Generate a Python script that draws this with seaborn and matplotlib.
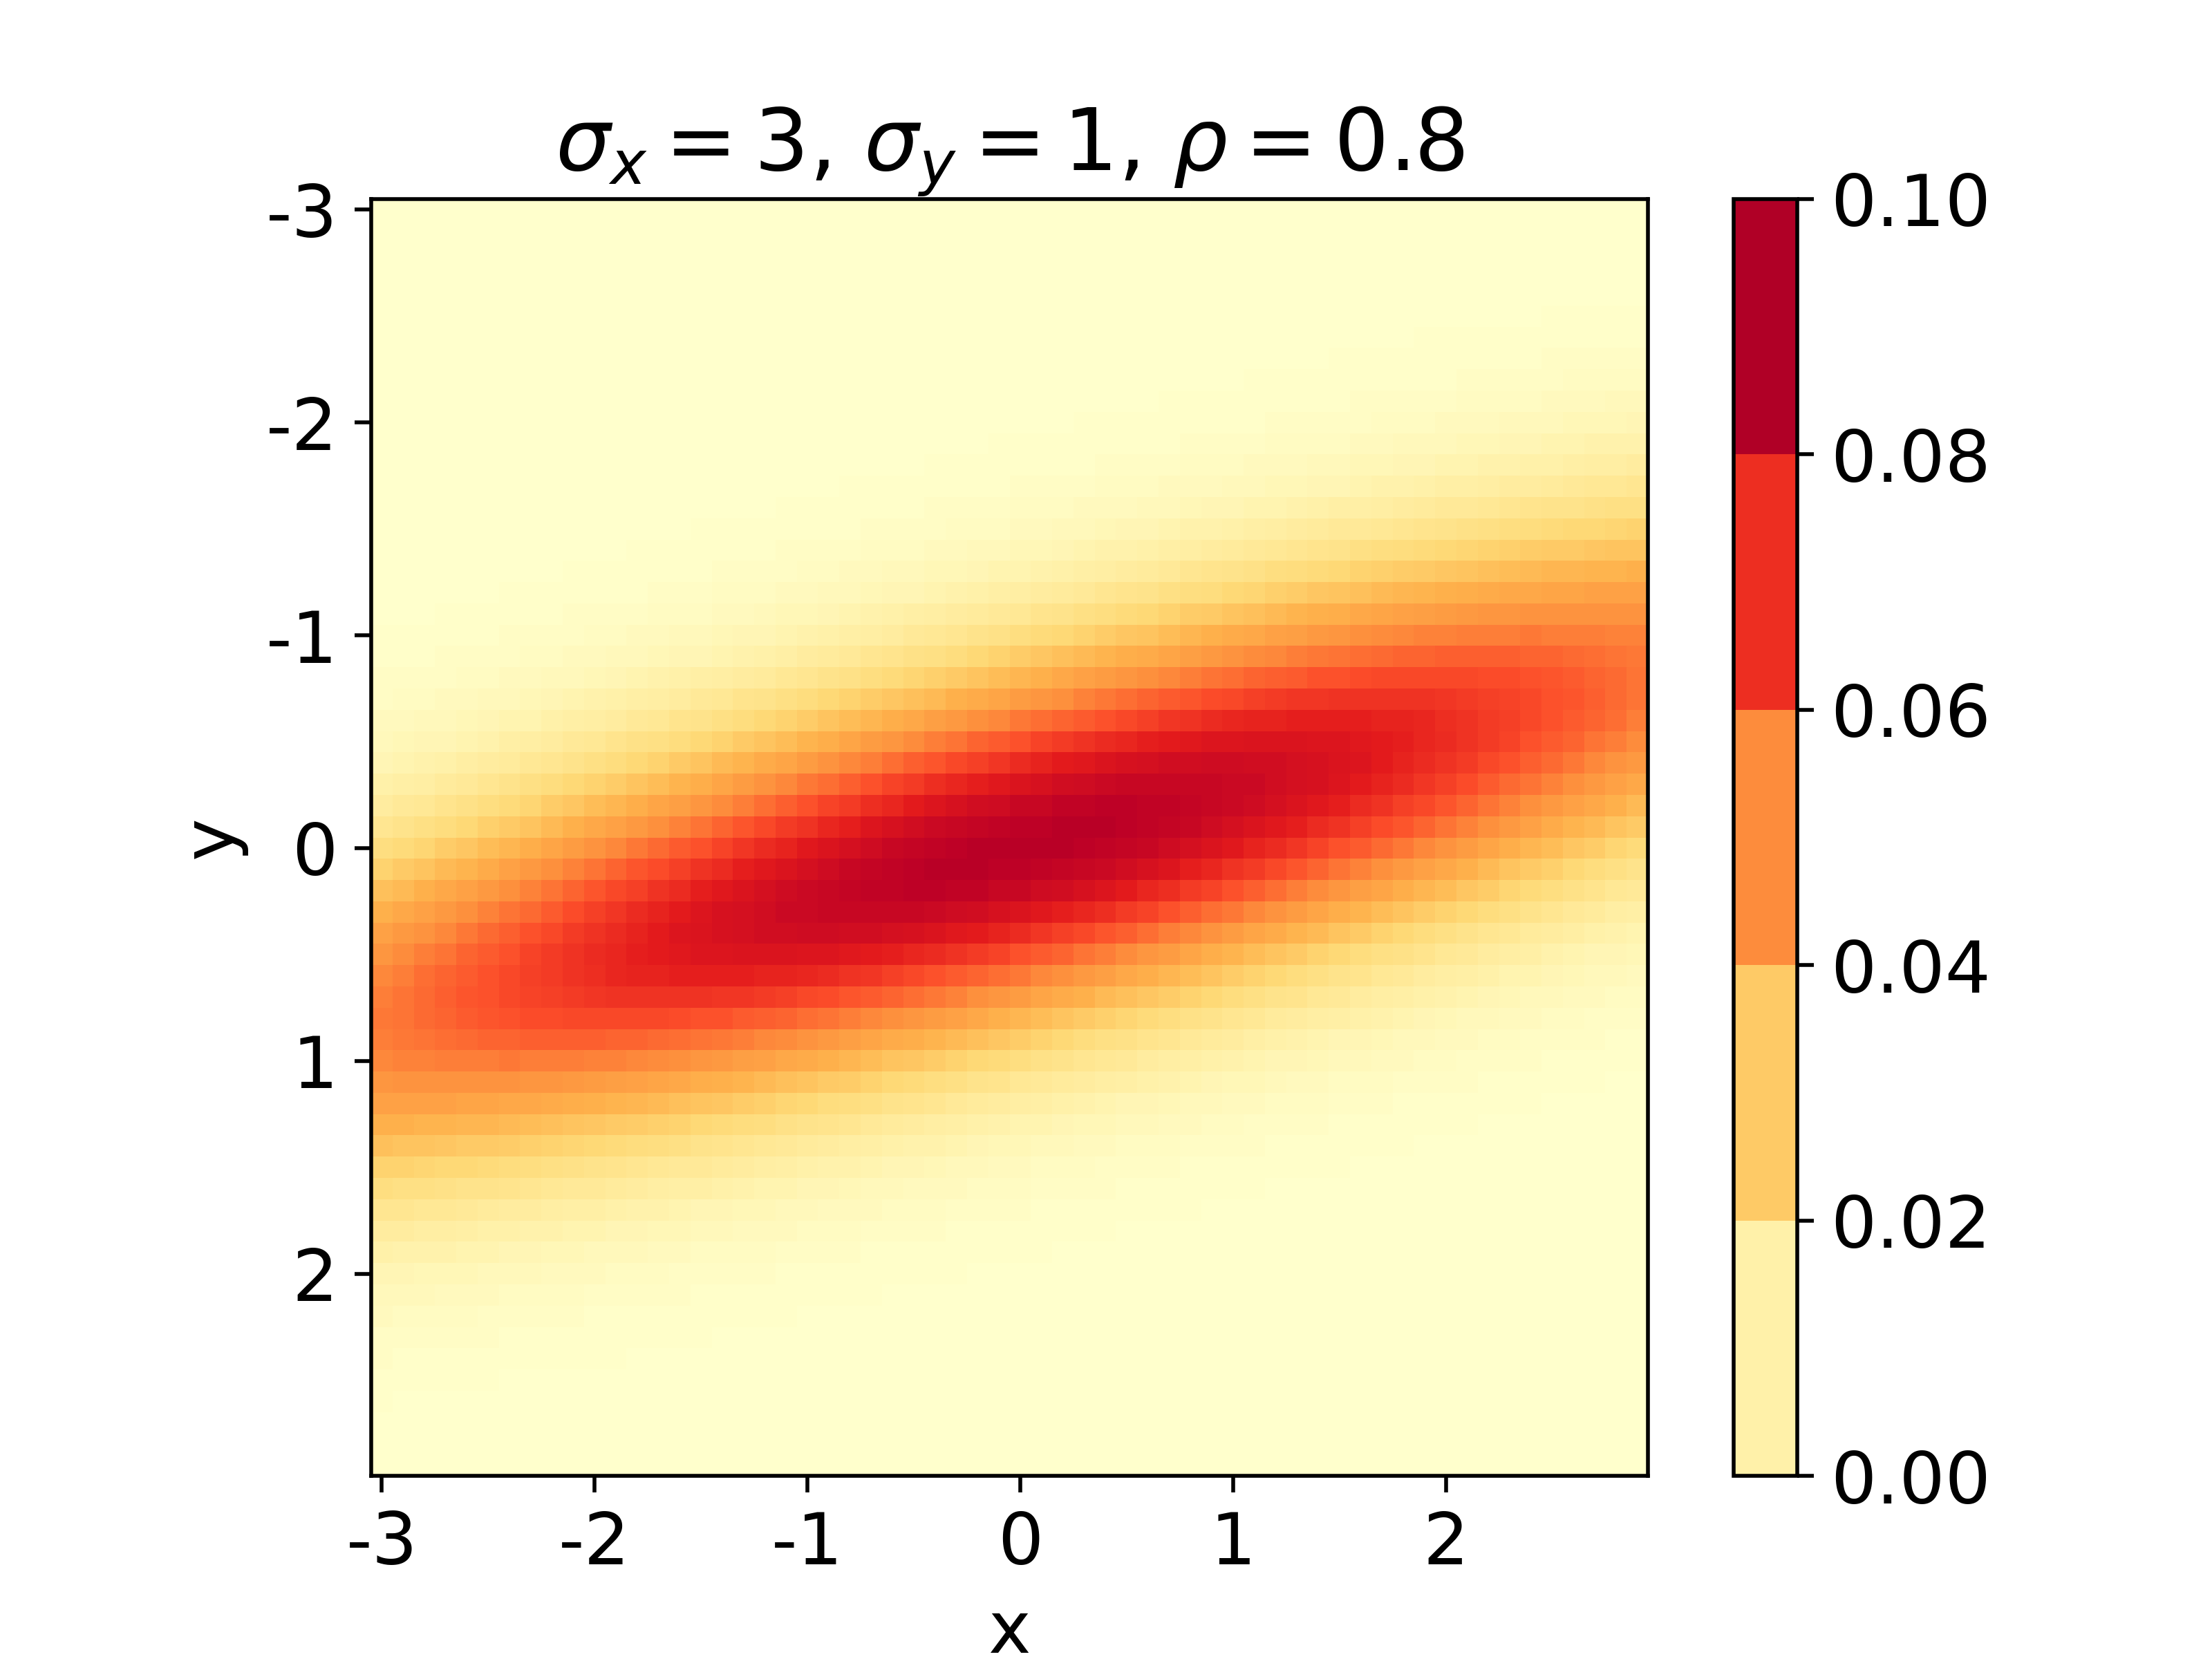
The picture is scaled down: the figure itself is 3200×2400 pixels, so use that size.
import numpy as np
import matplotlib
matplotlib.use("Agg")
import matplotlib.pyplot as plt
import seaborn as sns

# Cell estimates in units of 0.001, one list per image column, starting at first_rows[i].
c00 = [1,1,2,2,4,5,7,10,13,17,22,27,33,38,43,47,51,53,54,53,51,47,43,38,33,27,22,17,13,10,7,5,4,2,2,1,1]
c01 = [1,1,2,3,4,6,8,11,15,19,24,30,35,41,46,50,53,55,55,54,52,48,43,38,32,27,21,17,13,9,7,5,3,2,1,1]
c02 = [1,1,2,3,5,7,9,12,16,21,26,32,38,43,48,53,56,57,57,55,52,48,43,37,32,26,21,16,12,9,6,5,3,2,1,1]
c03 = [1,1,2,2,4,5,7,10,14,18,23,29,35,41,46,51,55,58,59,58,56,53,48,43,37,31,25,20,16,12,9,6,4,3,2,1,1]
c04 = [1,1,2,3,4,6,8,12,15,20,25,31,37,43,49,54,58,60,61,60,57,53,48,42,36,30,25,19,15,11,8,6,4,3,2,1,1]
c05 = [1,1,2,3,5,7,9,13,17,22,28,34,40,46,52,57,60,62,62,61,58,53,48,42,36,30,24,19,14,10,8,5,4,2,2,1,1]
c06 = [1,1,2,2,4,5,8,11,14,19,24,30,36,43,49,55,59,62,64,64,62,58,54,48,41,35,29,23,18,13,10,7,5,3,2,1,1]
c07 = [1,1,2,3,4,6,8,12,16,21,26,32,39,46,52,57,62,65,66,65,63,59,53,47,41,34,28,22,17,13,9,7,5,3,2,1,1]
c08 = [1,1,2,3,5,7,10,13,17,23,29,35,42,49,55,60,64,67,67,66,63,59,53,47,40,33,27,21,16,12,9,6,4,3,2,1,1]
c09 = [1,1,2,2,4,5,8,11,15,19,25,31,38,45,52,58,63,67,69,69,67,64,59,53,46,39,32,26,20,15,11,8,6,4,3,2,1,1]
c10 = [1,1,2,3,4,6,9,12,16,21,27,34,41,48,55,61,66,69,71,70,68,64,59,52,45,38,31,25,19,15,11,8,5,4,2,1,1,1]
c11 = [1,1,2,3,5,7,10,13,18,23,29,36,43,51,58,64,68,71,72,72,69,64,58,52,44,37,30,24,18,14,10,7,5,3,2,1,1,1]
c12 = [1,1,1,2,4,5,8,11,15,20,25,32,39,46,54,61,66,71,73,74,73,69,64,58,51,43,36,29,23,17,13,9,7,5,3,2,1,1]
c13 = [1,1,2,3,4,6,9,12,16,21,27,34,42,49,57,63,69,73,75,75,73,69,64,57,50,42,35,28,22,16,12,9,6,4,3,2,1,1]
c14 = [1,1,2,3,5,7,10,13,18,23,30,37,44,52,60,66,71,75,77,76,74,69,63,56,49,41,33,27,21,15,11,8,6,4,2,2,1,1]
c15 = [1,1,1,2,3,5,7,11,15,19,25,32,39,47,55,62,69,74,77,78,77,74,69,62,55,47,39,32,25,19,15,11,7,5,3,2,1,1,1]
c16 = [1,1,2,3,4,6,8,12,16,21,27,35,42,50,58,65,71,76,79,79,77,74,68,62,54,46,38,31,24,18,14,10,7,5,3,2,1,1]
c17 = [1,1,2,3,4,7,9,13,18,23,30,37,45,53,61,68,74,78,80,80,78,74,68,60,53,44,37,29,23,17,13,9,6,4,3,2,1,1]
c18 = [1,1,2,3,5,7,10,14,19,25,32,40,48,56,64,71,76,80,81,81,78,73,67,59,51,43,35,28,22,16,12,8,6,4,3,2,1,1]
c19 = [1,1,2,2,4,6,8,11,16,21,27,34,42,51,59,67,73,78,82,83,81,78,73,66,58,50,41,33,26,20,15,11,8,5,4,2,1,1,1]
c20 = [1,1,2,3,4,6,9,13,17,23,29,37,45,54,62,69,76,80,83,83,82,77,72,64,56,48,40,32,25,19,14,10,7,5,3,2,1,1]
c21 = [1,1,2,3,5,7,10,14,19,25,32,39,48,56,65,72,78,82,84,84,82,77,71,63,55,46,38,30,23,18,13,9,7,4,3,2,1,1]
c22 = [1,1,1,2,4,5,8,11,15,20,27,34,42,51,59,67,74,80,84,85,84,81,76,69,61,53,44,36,29,22,17,12,9,6,4,3,2,1,1]
c23 = [1,1,2,3,4,6,9,12,17,22,29,36,45,53,62,70,77,82,85,86,84,81,75,68,60,51,42,34,27,21,15,11,8,5,4,2,1,1,1]
c24 = [1,1,2,3,5,7,10,13,18,24,31,39,47,56,65,72,79,84,86,86,84,80,74,66,58,49,40,32,25,19,14,10,7,5,3,2,1,1]
c25 = [1,1,2,3,5,7,11,15,20,26,33,41,50,59,67,75,81,85,87,87,84,79,72,64,56,47,39,31,24,18,13,9,7,4,3,2,1,1]
c26 = [1,1,2,2,4,6,8,12,16,21,28,35,44,53,61,70,77,83,86,88,87,83,78,71,62,54,45,37,29,22,17,12,9,6,4,3,2,1,1]
c27 = [1,1,2,3,4,6,9,13,17,23,30,38,46,55,64,72,79,84,87,88,86,82,76,69,60,52,43,35,27,21,15,11,8,5,4,2,1,1,1]
c28 = [1,1,2,3,5,7,10,14,19,25,32,40,49,58,66,74,81,85,88,88,86,81,75,67,58,49,41,33,25,19,14,10,7,5,3,2,1,1]
c29 = [1,1,1,2,3,5,8,11,15,20,27,34,42,51,60,68,76,82,86,88,87,84,79,73,65,56,47,38,31,24,18,13,9,6,4,3,2,1,1]
c30 = [1,1,2,3,4,6,8,12,16,22,29,36,45,54,62,71,78,84,87,88,87,84,78,71,62,54,45,36,29,22,16,12,8,6,4,3,2,1,1]
c31 = [1,1,2,3,4,6,9,13,18,24,31,38,47,56,65,73,79,84,87,88,86,82,76,68,60,51,42,34,27,20,15,11,8,5,3,2,1,1,1]
c32 = [1,1,2,3,5,7,10,14,19,25,33,41,49,58,67,75,81,86,88,88,85,81,74,66,58,49,40,32,25,19,14,10,7,5,3,2,1,1]
c33 = [1,1,1,2,4,5,8,11,15,21,27,35,43,52,60,69,76,82,86,88,87,84,79,72,64,55,46,38,30,23,17,13,9,6,4,3,2,1,1]
c34 = [1,1,2,3,4,6,9,12,17,22,29,37,45,54,62,71,78,83,87,88,86,83,77,70,61,53,44,35,28,21,16,12,8,6,4,2,2,1,1]
c35 = [1,1,2,3,4,7,9,13,18,24,31,39,47,56,64,72,79,84,87,87,85,81,75,67,59,50,41,33,26,20,15,11,7,5,3,2,1,1]
c36 = [1,1,2,3,5,7,10,14,19,25,32,40,49,58,66,74,80,84,86,86,84,79,72,65,56,47,39,31,24,18,13,10,7,5,3,2,1,1]
c37 = [1,1,1,2,4,5,8,11,15,21,27,34,42,51,60,68,75,81,84,86,85,82,77,70,62,53,45,36,29,22,17,12,9,6,4,3,2,1,1]
c38 = [1,1,2,3,4,6,9,12,17,22,29,36,44,53,61,69,76,81,84,85,84,80,74,67,59,51,42,34,27,20,15,11,8,5,4,2,1,1,1]
c39 = [1,1,2,3,4,7,9,13,18,23,30,38,46,55,63,71,77,82,84,84,82,78,72,65,56,48,39,32,25,19,14,10,7,5,3,2,1,1]
c40 = [1,1,2,3,5,7,10,14,19,25,32,40,48,56,64,72,77,82,83,83,80,76,69,62,54,45,37,29,23,17,13,9,6,4,3,2,1,1]
c41 = [1,1,1,2,4,5,8,11,15,20,26,33,41,50,58,66,73,78,81,83,82,78,73,67,59,51,42,34,27,21,16,11,8,6,4,2,2,1,1]
c42 = [1,1,2,3,4,6,8,12,16,22,28,35,43,51,59,67,73,78,81,81,80,76,71,64,56,48,40,32,25,19,14,10,7,5,3,2,1,1]
c43 = [1,1,2,3,4,6,9,13,17,23,29,37,44,53,60,68,74,78,80,80,78,74,68,61,53,45,37,30,23,18,13,9,7,4,3,2,1,1]
c44 = [1,1,2,3,5,7,10,14,18,24,31,38,46,54,62,68,74,77,79,79,76,71,65,58,50,42,35,27,21,16,12,8,6,4,3,2,1,1]
c45 = [1,1,1,2,3,5,7,11,15,19,25,32,39,47,55,62,69,74,77,78,77,74,69,62,55,47,39,32,25,19,15,11,7,5,3,2,1,1,1]
c46 = [1,1,2,2,4,6,8,11,15,21,27,33,41,49,56,63,69,74,76,77,75,71,66,60,52,44,37,30,23,18,13,10,7,5,3,2,1,1]
c47 = [1,1,2,3,4,6,9,12,16,22,28,35,42,50,57,64,69,73,75,75,73,69,63,57,49,42,34,27,21,16,12,9,6,4,3,2,1,1]
c48 = [1,1,2,3,5,7,9,13,17,23,29,36,43,51,58,64,69,73,74,73,71,66,61,54,46,39,32,25,20,15,11,8,5,4,2,1,1,1]
c49 = [1,1,1,2,3,5,7,10,14,18,24,30,37,44,52,58,64,69,72,72,71,68,64,58,51,43,36,29,23,18,13,10,7,5,3,2,1,1]
c50 = [1,1,1,2,4,5,8,11,15,19,25,31,38,45,52,59,64,68,70,71,69,66,61,55,48,41,34,27,21,16,12,9,6,4,3,2,1,1]
c51 = [1,1,2,3,4,6,8,11,15,20,26,32,39,46,53,59,64,67,69,69,67,63,58,52,45,38,31,25,19,15,11,8,5,4,2,2,1,1]
c52 = [1,1,2,3,4,6,9,12,16,21,27,33,40,47,53,59,63,66,67,67,64,60,55,49,42,35,29,23,17,13,10,7,5,3,2,1,1]
c53 = [1,1,2,3,5,7,9,13,17,22,28,34,41,47,53,59,63,65,66,65,62,57,52,46,39,32,26,21,16,12,8,6,4,3,2,1,1]
c54 = [1,1,2,3,5,7,10,13,18,23,29,35,41,48,54,58,62,64,64,62,59,55,49,43,36,30,24,19,14,11,8,5,4,2,2,1,1]
c55 = [1,1,2,2,4,5,8,10,14,19,24,30,36,42,48,53,58,61,62,62,60,57,52,46,40,34,28,22,17,13,9,7,5,3,2,1,1]
c56 = [1,1,2,3,4,6,8,11,15,19,25,30,36,42,48,53,57,60,61,60,58,54,49,43,37,31,25,20,15,12,8,6,4,3,2,1,1]
c57 = [1,1,2,3,4,6,9,12,16,20,25,31,37,43,48,53,56,58,59,58,55,51,46,41,35,29,23,18,14,10,7,5,4,2,2,1,1]
c58 = [1,1,2,3,5,6,9,12,16,21,26,32,37,43,48,52,55,57,57,56,53,48,43,38,32,26,21,16,12,9,7,5,3,2,1,1]
c59 = [1,1,2,3,5,7,9,13,17,21,27,32,38,43,48,52,54,55,55,53,50,46,41,35,30,24,19,15,11,8,6,4,3,2,1,1]

first_rows = [20,20,20,19,19,19,18,18,18,17,17,17,16,16,16,15,15,15,15,14,14,14,13,13,13,13,12,12,12,11,
              11,11,11,10,10,10,10,9,9,9,9,8,8,8,8,7,7,7,7,6,6,6,6,6,6,5,5,5,5,5]

x_tick_cells = [0, 10, 20, 30, 40, 50]
x_tick_labels = ["-3", "-2", "-1", "0", "1", "2"]
y_tick_cells = [0, 10, 20, 30, 40, 50]
y_tick_labels = ["-3", "-2", "-1", "0", "1", "2"]
cbar_levels = [0.0, 0.02, 0.04, 0.06, 0.08, 0.10]

columns = [c00,c01,c02,c03,c04,c05,c06,c07,c08,c09,c10,c11,c12,c13,c14,c15,c16,c17,c18,c19,
           c20,c21,c22,c23,c24,c25,c26,c27,c28,c29,c30,c31,c32,c33,c34,c35,c36,c37,c38,c39,
           c40,c41,c42,c43,c44,c45,c46,c47,c48,c49,c50,c51,c52,c53,c54,c55,c56,c57,c58,c59]

density = np.zeros((60, 60))
for i, (col, start) in enumerate(zip(columns, first_rows)):
    density[start:start + len(col), i] = np.array(col) / 1000.0

fig = plt.figure(figsize=(6.4, 4.8), dpi=500)
W, H = 3200.0, 2400.0
ax = fig.add_axes([537 / W, 1 - 2135 / H, 1847 / W, 1847 / H])
cax = fig.add_axes([2508 / W, 1 - 2135 / H, 92 / W, 1847 / H])

sns.heatmap(density, cmap="YlOrRd", vmin=0, vmax=0.1, ax=ax, cbar_ax=cax,
            xticklabels=False, yticklabels=False, linewidths=0,
            cbar_kws={"boundaries": cbar_levels, "ticks": cbar_levels, "format": "%.2f"})

ax.set_xticks(np.array(x_tick_cells) + 0.5)
ax.set_xticklabels(x_tick_labels, rotation=0, fontsize=15)
ax.set_yticks(np.array(y_tick_cells) + 0.5)
ax.set_yticklabels(y_tick_labels, rotation=0, fontsize=15, va="center_baseline")
ax.tick_params(axis="both", length=3.5, width=0.8, left=True, bottom=True)
for side in ax.spines:
    ax.spines[side].set_visible(True)
    ax.spines[side].set_linewidth(0.8)
    ax.spines[side].set_color("black")

ax.set_xlabel("x", fontsize=15)
ax.set_ylabel("y", fontsize=15)
ax.set_title(r"$\sigma_x = 3$, $\sigma_y = 1$, $\rho = 0.8$", fontsize=18, pad=6)

cbar = ax.collections[0].colorbar
cbar.outline.set_visible(True)
cbar.outline.set_linewidth(0.8)
cbar.outline.set_edgecolor("black")
cbar.ax.tick_params(labelsize=15, length=3.5, width=0.8)

fig.savefig("out.png", dpi=500)
